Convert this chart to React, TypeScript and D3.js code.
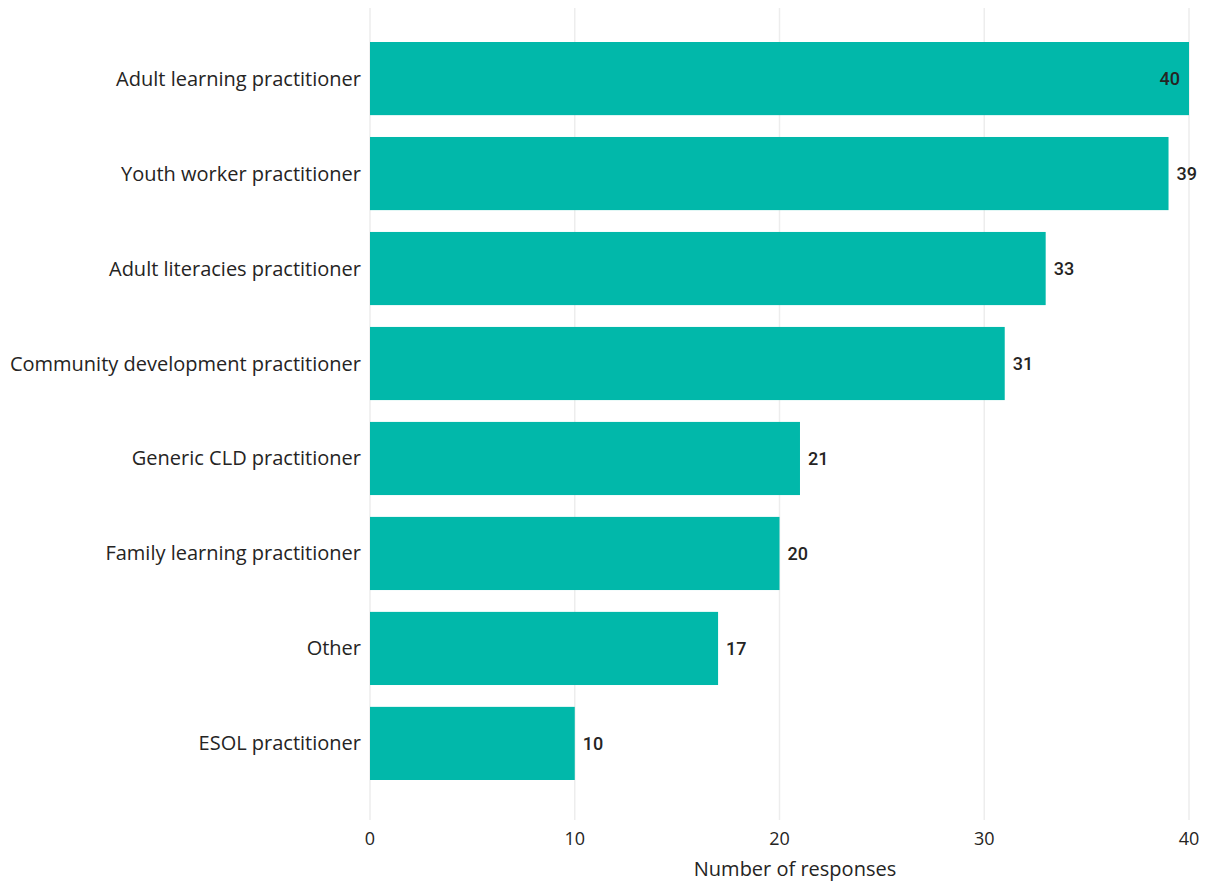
import React from "react";
import * as d3 from "d3";

const categories = [
  "Adult learning practitioner",
  "Youth worker practitioner",
  "Adult literacies practitioner",
  "Community development practitioner",
  "Generic CLD practitioner",
  "Family learning practitioner",
  "Other",
  "ESOL practitioner",
];
const values = [40, 39, 33, 31, 21, 20, 17, 10];
const xTicks = [0, 10, 20, 30, 40];

export default function App() {
  const W = 1210, H = 885;
  const x = d3.scaleLinear().domain([0, 40]).range([370, 1189]);
  const y = d3.scaleBand<string>().domain(categories).range([42, 780]).paddingInner(0.23).paddingOuter(0);
  const font = "'Segoe UI', 'Open Sans', 'Noto Sans', sans-serif";
  return (
    <svg width={W} height={H} style={{ position: "absolute", left: 0, top: 0 }}>
      <rect width={W} height={H} fill="#fff" />
      {xTicks.map((t) => (
        <g key={t}>
          <line x1={x(t)} x2={x(t)} y1={8} y2={820} stroke="#EDEDED" strokeWidth={1.5} />
          <text x={x(t)} y={845} textAnchor="middle" fontFamily={font} fontSize={18} fill="#252423">{t}</text>
        </g>
      ))}
      {categories.map((c, i) => {
        const v = values[i];
        const yy = y(c)!;
        const bw = y.bandwidth();
        const inside = x(v) + 8 + 26 > W;
        return (
          <g key={c}>
            <rect x={x(0)} y={yy} width={x(v) - x(0)} height={bw} fill="#01B8AA" />
            <text x={361} y={yy + bw / 2} dy="0.35em" textAnchor="end" fontFamily={font} fontSize={20} fill="#252423">{c}</text>
            <text
              x={inside ? x(v) - 9 : x(v) + 8}
              y={yy + bw / 2}
              dy="0.36em"
              textAnchor={inside ? "end" : "start"}
              fontFamily="Roboto, sans-serif"
              fontWeight={500}
              fontSize={18}
              fill="#252423"
            >{v}</text>
          </g>
        );
      })}
      <text x={795} y={876} textAnchor="middle" fontFamily={font} fontSize={20} fill="#252423">Number of responses</text>
    </svg>
  );
}
